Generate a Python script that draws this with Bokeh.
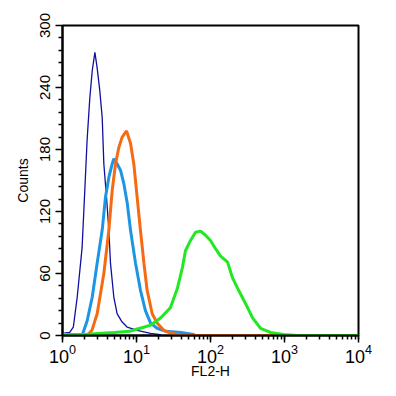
from bokeh.plotting import figure
from bokeh.models import FixedTicker, LogTicker, Range1d
from bokeh.embed import file_html
from bokeh.resources import INLINE

# FL2-H (x) and Counts (y) for each histogram
navy_x = [1.0, 1.25, 1.4, 1.58, 1.84, 2.0, 2.15, 2.34, 2.52, 2.74, 2.94, 3.19, 3.44, 3.62, 3.93, 4.23, 4.45, 4.94, 5.48, 6.4, 7.5, 10.2, 15.5, 20, 22]
navy_y = [2, 3, 8, 37, 85, 140, 189, 230, 256, 274, 259, 237, 211, 166, 134, 102, 70, 37, 21, 13, 8, 5, 2, 1, 0]

blue_x = [1.84, 2.15, 2.52, 2.94, 3.44, 3.81, 4.23, 4.69, 4.94, 5.48, 6.08, 6.74, 7.5, 8.3, 9.7, 11.3, 13.2, 15.5, 19, 25, 40, 59, 62]
blue_y = [0, 14, 37, 70, 102, 134, 153, 166, 171, 166, 160, 147, 128, 102, 70, 44, 24, 12, 7, 4, 3, 1, 0]

orange_x = [2.15, 2.5, 2.94, 3.62, 4.23, 4.69, 5.2, 5.77, 6.4, 7.33, 8.3, 9.2, 10.2, 11.3, 12.6, 13.9, 16.3, 19, 23.4, 27.3, 35, 40, 900]
orange_y = [0, 5, 21, 60, 102, 140, 166, 182, 192, 198, 186, 166, 134, 102, 70, 44, 21, 12, 5, 3, 1, 0, 0]

green_x = [1, 2, 3, 5, 8, 10, 12.5, 15.5, 21.1, 28.8, 35.8, 41.8, 45.9, 53.7, 62.7, 73.3, 85.6, 100, 117, 136, 170, 198, 239, 297, 370, 474, 647, 969, 1500, 10000]
green_y = [1, 1, 2, 3, 4, 6, 8, 10, 17, 27, 46, 66, 82, 92, 100, 101, 97, 92, 84, 77, 71, 56, 44, 31, 17, 7, 3, 1, 0, 0]

y_major = [0, 60, 120, 180, 240, 300]
y_minor = [v for v in range(0, 301, 12) if v % 60 != 0]

p = figure(width=396, height=396, x_axis_type="log", output_backend="svg",
           toolbar_location=None,
           x_range=Range1d(1, 10000), y_range=Range1d(0, 300),
           min_border_left=62, min_border_right=38, min_border_top=25, min_border_bottom=61)

p.line(navy_x, navy_y, line_color="#1010a0", line_width=1.3)
p.line(blue_x, blue_y, line_color="#1c96e4", line_width=3)
p.line(orange_x, orange_y, line_color="#f66a14", line_width=3)
p.line(green_x, green_y, line_color="#22e822", line_width=3)

p.grid.visible = False
p.outline_line_color = "black"
p.outline_line_width = 2
p.background_fill_color = "white"
p.border_fill_color = "white"

p.yaxis.ticker = FixedTicker(ticks=y_major, minor_ticks=y_minor)
p.xaxis.ticker = LogTicker(desired_num_ticks=5, num_minor_ticks=10)

for ax in (p.xaxis[0], p.yaxis[0]):
    ax.axis_line_width = 2
    ax.axis_line_color = "black"
    ax.major_tick_line_width = 1.5
    ax.minor_tick_line_width = 1.5
    ax.major_tick_out = 7
    ax.major_tick_in = 0
    ax.minor_tick_out = 4
    ax.minor_tick_in = 0
    ax.major_label_text_font = "Liberation Sans"
    ax.major_label_text_color = "black"
    ax.axis_label_text_font = "Liberation Sans"
    ax.axis_label_text_font_size = "14px"
    ax.axis_label_text_font_style = "normal"
    ax.axis_label_text_color = "black"

p.yaxis.major_label_text_font_size = "15px"
p.xaxis.major_label_text_font_size = "18px"
p.yaxis.major_label_orientation = "vertical"
p.yaxis.major_label_standoff = 6
p.yaxis.axis_label = "Counts"
p.yaxis.axis_label_standoff = 6
p.xaxis.axis_label = "FL2-H"
p.xaxis.major_label_standoff = 1
p.xaxis.axis_label_standoff = -3

open("out.html", "w").write(file_html(p, INLINE))
